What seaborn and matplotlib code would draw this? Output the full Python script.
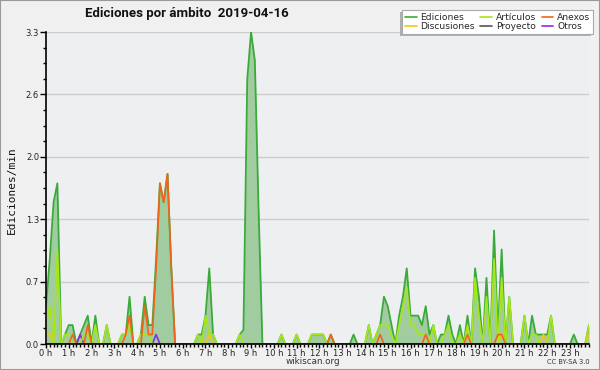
import numpy as np
import pandas as pd
import matplotlib
matplotlib.use("Agg")
import matplotlib.pyplot as plt
import seaborn as sns
from matplotlib.ticker import FixedLocator, MultipleLocator, NullFormatter
from matplotlib.patches import Rectangle
from matplotlib.lines import Line2D

# 10-minute slots, 0:00 .. 23:50 (6 values per hour per row)
hour_labels = [f"{h} h" for h in range(24)]
ytick_labels = ["0.0", "0.7", "1.3", "2.0", "2.6", "3.3"]

ediciones = [
    0.4, 0.9, 1.5, 1.7, 0.0, 0.1,
    0.2, 0.2, 0.0, 0.1, 0.2, 0.3,
    0.0, 0.3, 0.0, 0.0, 0.2, 0.0,
    0.0, 0.0, 0.1, 0.1, 0.5, 0.0,
    0.0, 0.1, 0.5, 0.2, 0.2, 0.9,
    1.7, 1.5, 1.8, 0.8, 0.0, 0.0,
    0.0, 0.0, 0.0, 0.0, 0.1, 0.1,
    0.3, 0.8, 0.1, 0.0, 0.0, 0.0,
    0.0, 0.0, 0.0, 0.1, 0.15, 2.8,
    3.3, 3.0, 1.4, 0.0, 0.0, 0.0,
    0.0, 0.0, 0.1, 0.0, 0.0, 0.0,
    0.1, 0.0, 0.0, 0.0, 0.1, 0.1,
    0.1, 0.1, 0.0, 0.1, 0.0, 0.0,
    0.0, 0.0, 0.0, 0.1, 0.0, 0.0,
    0.0, 0.2, 0.0, 0.1, 0.2, 0.5,
    0.4, 0.2, 0.0, 0.3, 0.5, 0.8,
    0.3, 0.3, 0.3, 0.2, 0.4, 0.1,
    0.2, 0.0, 0.1, 0.1, 0.3, 0.1,
    0.0, 0.2, 0.0, 0.3, 0.0, 0.8,
    0.5, 0.0, 0.7, 0.0, 1.2, 0.1,
    1.0, 0.0, 0.5, 0.0, 0.0, 0.0,
    0.3, 0.0, 0.3, 0.1, 0.1, 0.1,
    0.1, 0.3, 0.0, 0.0, 0.0, 0.0,
    0.0, 0.1, 0.0, 0.0, 0.0, 0.2,
]

articulos = [
    0.2, 0.4, 0.0, 1.0, 0.0, 0.1,
    0.1, 0.0, 0.0, 0.0, 0.1, 0.1,
    0.0, 0.2, 0.0, 0.0, 0.2, 0.0,
    0.0, 0.0, 0.1, 0.1, 0.2, 0.0,
    0.0, 0.1, 0.1, 0.1, 0.0, 0.0,
    0.0, 0.0, 0.0, 0.0, 0.0, 0.0,
    0.0, 0.0, 0.0, 0.0, 0.1, 0.0,
    0.3, 0.1, 0.1, 0.0, 0.0, 0.0,
    0.0, 0.0, 0.0, 0.1, 0.0, 0.0,
    0.0, 0.0, 0.0, 0.0, 0.0, 0.0,
    0.0, 0.0, 0.1, 0.0, 0.0, 0.0,
    0.1, 0.0, 0.0, 0.0, 0.1, 0.1,
    0.1, 0.1, 0.0, 0.0, 0.0, 0.0,
    0.0, 0.0, 0.0, 0.0, 0.0, 0.0,
    0.0, 0.2, 0.0, 0.1, 0.2, 0.2,
    0.2, 0.1, 0.0, 0.2, 0.4, 0.6,
    0.2, 0.2, 0.1, 0.1, 0.1, 0.0,
    0.2, 0.0, 0.0, 0.1, 0.2, 0.0,
    0.0, 0.1, 0.0, 0.2, 0.0, 0.7,
    0.3, 0.0, 0.5, 0.0, 0.9, 0.0,
    0.7, 0.0, 0.5, 0.0, 0.0, 0.0,
    0.3, 0.0, 0.1, 0.1, 0.0, 0.0,
    0.0, 0.3, 0.0, 0.0, 0.0, 0.0,
    0.0, 0.0, 0.0, 0.0, 0.0, 0.2,
]

anexos = [
    0.0, 0.0, 0.0, 0.0, 0.0, 0.0,
    0.0, 0.1, 0.0, 0.0, 0.0, 0.2,
    0.0, 0.0, 0.0, 0.0, 0.0, 0.0,
    0.0, 0.0, 0.0, 0.1, 0.3, 0.0,
    0.0, 0.0, 0.4, 0.1, 0.1, 0.8,
    1.7, 1.5, 1.8, 0.8, 0.0, 0.0,
    0.0, 0.0, 0.0, 0.0, 0.0, 0.0,
    0.0, 0.0, 0.0, 0.0, 0.0, 0.0,
    0.0, 0.0, 0.0, 0.0, 0.0, 0.0,
    0.0, 0.0, 0.0, 0.0, 0.0, 0.0,
    0.0, 0.0, 0.0, 0.0, 0.0, 0.0,
    0.0, 0.0, 0.0, 0.0, 0.0, 0.0,
    0.0, 0.0, 0.0, 0.1, 0.0, 0.0,
    0.0, 0.0, 0.0, 0.0, 0.0, 0.0,
    0.0, 0.0, 0.0, 0.0, 0.1, 0.0,
    0.0, 0.0, 0.0, 0.0, 0.0, 0.0,
    0.0, 0.0, 0.0, 0.0, 0.1, 0.0,
    0.0, 0.0, 0.0, 0.0, 0.0, 0.0,
    0.0, 0.0, 0.0, 0.1, 0.0, 0.0,
    0.0, 0.0, 0.0, 0.0, 0.0, 0.1,
    0.1, 0.0, 0.0, 0.0, 0.0, 0.0,
    0.0, 0.0, 0.0, 0.0, 0.0, 0.0,
    0.0, 0.0, 0.0, 0.0, 0.0, 0.0,
    0.0, 0.0, 0.0, 0.0, 0.0, 0.0,
]

discusiones = [0.0] * 144
for _i in (0, 1, 43, 120, 131, 143):
    discusiones[_i] = 0.1
otros = [0.0] * 144
for _i in (9, 29):
    otros[_i] = 0.1
proyecto = [0.0] * 144

sns.set_style("ticks")
plt.rcParams["font.family"] = ["DejaVu Sans"]

W, H = 600, 370
fig = plt.figure(figsize=(6, 3.7), dpi=100, facecolor="#f0f0f0")
ax = fig.add_axes([46 / W, 26 / H, 543 / W, 312 / H])
ax.set_facecolor("#eeeff1")

df = pd.DataFrame({
    "slot": np.arange(144),
    "Ediciones": ediciones,
    "Artículos": articulos,
    "Anexos": anexos,
    "Discusiones": discusiones,
    "Proyecto": proyecto,
    "Otros": otros,
})

colors = {
    "Ediciones": "#3aab3a",
    "Artículos": "#a6e61a",
    "Anexos": "#f26419",
    "Discusiones": "#f5c518",
    "Proyecto": "#555555",
    "Otros": "#8a2be2",
}

ax.fill_between(df["slot"], df["Ediciones"], color="#a0cca0", lw=0, zorder=1)
sns.lineplot(data=df, x="slot", y="Ediciones", color=colors["Ediciones"], lw=1.3, ax=ax, zorder=3)
for name in ["Proyecto", "Otros", "Discusiones", "Artículos", "Anexos"]:
    sns.lineplot(data=df, x="slot", y=name, color=colors[name], lw=1.2, ax=ax, zorder=4)

ax.set_xlim(0, 143)
ax.set_ylim(0, 3.3)
ax.set_xlabel("")
ax.set_ylabel("")

ax.yaxis.set_major_locator(FixedLocator([0, 0.66, 1.32, 1.98, 2.64, 3.3]))
ax.set_yticklabels(ytick_labels)
ax.yaxis.set_minor_locator(MultipleLocator(0.165))
ax.xaxis.set_major_locator(FixedLocator(list(range(0, 144, 6))))
ax.set_xticklabels(hour_labels)
ax.xaxis.set_minor_locator(MultipleLocator(1))
ax.xaxis.set_minor_formatter(NullFormatter())

ax.yaxis.grid(True, which="major", color="#cccccc", lw=1)
ax.xaxis.grid(False)
ax.set_axisbelow(True)

for s in ["top", "right"]:
    ax.spines[s].set_visible(False)
for s in ["left", "bottom"]:
    ax.spines[s].set_color("black")
    ax.spines[s].set_linewidth(1.2)
    ax.spines[s].set_zorder(6)

ax.tick_params(axis="y", which="major", length=4.5, width=1, color="black",
               labelsize=6, pad=0.5, labelcolor="#222222", direction="out")
ax.tick_params(axis="y", which="minor", length=2.5, width=1, color="black", direction="out")
ax.tick_params(axis="x", which="major", length=3, width=1, color="black",
               labelsize=6, pad=0.3, labelcolor="#222222", direction="out")
ax.tick_params(axis="x", which="minor", length=2.5, width=1, color="black", direction="out")

fig.text(85 / W, 1 - 14 / H, "Ediciones por ámbito  2019-04-16",
         ha="left", va="center", fontsize=9.5, fontweight="bold",
         family=["Roboto", "DejaVu Sans"], color="#111111")
fig.text(12 / W, 1 - 190 / H, "Ediciones/min", rotation=90, ha="center", va="center",
         fontsize=8, family=["DejaVu Sans Mono"], color="#111111")
fig.text(313 / W, 1 - 362 / H, "wikiscan.org", ha="center", va="center",
         fontsize=6.3, color="#333333")
fig.text(590 / W, 1 - 362 / H, "CC BY-SA 3.0", ha="right", va="center",
         fontsize=4.8, color="#333333")

order = ["Ediciones", "Discusiones", "Artículos", "Proyecto", "Anexos", "Otros"]
handles = [Line2D([0], [0], color=colors[n], lw=1.2) for n in order]
leg = fig.legend(handles, order, ncol=3, loc="upper right",
                 bbox_to_anchor=(593 / W, 1 - 10 / H), fontsize=6.6,
                 frameon=True, fancybox=False, shadow=False, handlelength=1.3,
                 columnspacing=0.6, handletextpad=0.4, labelspacing=0.0,
                 borderpad=0.3, borderaxespad=0, edgecolor="#aaaaaa", framealpha=1)
leg.get_frame().set_facecolor("white")
leg.get_frame().set_linewidth(0.8)
leg.set_zorder(5)

fig.canvas.draw()
bb = leg.get_window_extent(fig.canvas.get_renderer()).transformed(fig.transFigure.inverted())
fig.patches.append(Rectangle((bb.x0 - 2 / W, bb.y0 - 2 / H), bb.width, bb.height,
                             transform=fig.transFigure, facecolor="#b0b0b0",
                             edgecolor="none", zorder=4))

fig.patches.append(Rectangle((0, 0), 1, 1, transform=fig.transFigure, fill=False,
                             edgecolor="#999999", lw=1.5, zorder=10))

fig.savefig("out.png", dpi=100, facecolor=fig.get_facecolor())
